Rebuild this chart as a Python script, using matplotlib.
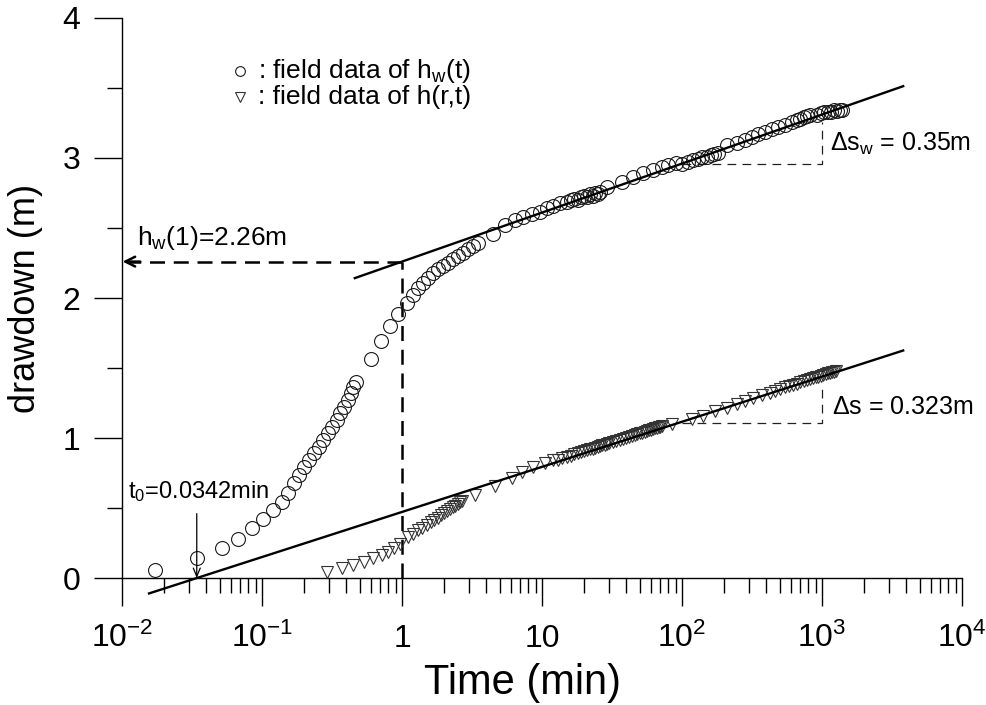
import matplotlib
matplotlib.use('Agg')
import matplotlib.pyplot as plt
from matplotlib.ticker import FixedLocator, LogLocator, MultipleLocator, NullFormatter

plt.rcParams['font.family'] = ['Liberation Sans', 'DejaVu Sans']
plt.rcParams['mathtext.fontset'] = 'custom'
plt.rcParams['mathtext.rm'] = 'Liberation Sans'
plt.rcParams['mathtext.it'] = 'Liberation Sans:italic'
plt.rcParams['mathtext.default'] = 'regular'

# field data of h_w(t)  (time in min, drawdown in m)
well_t = [0.0172, 0.0343, 0.0518, 0.0674, 0.0848, 0.1017, 0.120, 0.139, 0.153, 0.169,
          0.184, 0.200, 0.217, 0.235, 0.255, 0.273, 0.296, 0.316, 0.343, 0.361,
          0.385, 0.411, 0.432, 0.447, 0.469, 0.600, 0.708, 0.820, 0.936, 1.086,
          1.20, 1.30, 1.41, 1.53, 1.66, 1.81, 1.96, 2.13, 2.31, 2.51,
          2.73, 2.96, 3.21, 3.49, 4.47, 5.4, 6.4, 7.3, 8.5, 9.7,
          10.9, 12.0, 13.5, 15.1, 16, 17, 18, 19, 20, 21,
          22, 23, 24, 25, 26, 29.1, 37.2, 44.7, 52.6, 62.1,
          72, 80, 90, 100, 110, 120, 130, 140, 150, 160,
          170, 180, 209, 247, 282, 316, 349, 392, 440, 485,
          545, 611, 660, 700, 740, 780, 820, 920, 980, 1040,
          1100, 1160, 1220, 1280, 1340, 1390]
well_s = [0.057, 0.143, 0.214, 0.279, 0.357, 0.421, 0.486, 0.543, 0.607, 0.679,
          0.736, 0.793, 0.843, 0.893, 0.936, 0.986, 1.036, 1.079, 1.129, 1.179,
          1.221, 1.271, 1.321, 1.364, 1.400, 1.564, 1.693, 1.800, 1.886, 1.964,
          2.021, 2.071, 2.107, 2.140, 2.180, 2.207, 2.230, 2.250, 2.280, 2.300,
          2.320, 2.350, 2.370, 2.390, 2.457, 2.521, 2.557, 2.579, 2.600, 2.614,
          2.643, 2.657, 2.679, 2.686, 2.70, 2.71, 2.70, 2.72, 2.73, 2.72,
          2.74, 2.73, 2.75, 2.74, 2.76, 2.793, 2.829, 2.864, 2.893, 2.914,
          2.936, 2.95, 2.964, 2.96, 2.97, 2.985, 2.99, 3.005, 3.01, 3.02,
          3.03, 3.035, 3.093, 3.107, 3.129, 3.15, 3.171, 3.186, 3.207, 3.221,
          3.236, 3.257, 3.27, 3.28, 3.29, 3.30, 3.31, 3.31, 3.32, 3.33,
          3.325, 3.33, 3.34, 3.335, 3.34, 3.345]

# field data of h(r,t)
obs_t = [0.291, 0.373, 0.447, 0.535, 0.621, 0.72, 0.794, 0.877, 0.968,
         1.1, 1.2, 1.3, 1.4, 1.5, 1.6, 1.7, 1.8, 1.9, 2.0, 2.1, 2.2, 2.3, 2.4, 2.5, 2.6, 2.7,
         3.32, 4.62, 6.1, 7.2, 8.6, 10.5, 12.0,
         13, 14, 15, 16, 17, 18, 19, 20, 21, 22, 23, 24, 25, 26, 27, 28, 29, 30,
         32, 34, 36, 38, 40, 42, 44, 46, 48, 50, 52, 54, 56, 58, 60, 62, 64, 66, 68, 70, 72,
         85, 118, 141, 172, 210, 247, 282, 321, 373, 425,
         460, 500, 540, 580, 620, 660, 700, 740, 780, 820, 860, 900, 940, 980, 1020,
         1060, 1100, 1140, 1180, 1220, 1260]
obs_s = [0.043, 0.071, 0.093, 0.114, 0.143, 0.164, 0.186, 0.214, 0.243,
         0.29, 0.315, 0.34, 0.36, 0.38, 0.40, 0.415, 0.43, 0.45, 0.465, 0.48, 0.49, 0.505, 0.515, 0.53, 0.54, 0.55,
         0.593, 0.657, 0.714, 0.757, 0.793, 0.821, 0.843,
         0.845, 0.856, 0.865, 0.874, 0.883, 0.891, 0.899, 0.906, 0.912, 0.919, 0.925, 0.931, 0.937, 0.942,
         0.948, 0.953, 0.958, 0.962,
         0.971, 0.980, 0.988, 0.995, 1.003, 1.009, 1.016, 1.022, 1.028, 1.034, 1.039, 1.045, 1.050, 1.055,
         1.059, 1.064, 1.068, 1.073, 1.077, 1.081, 1.085,
         1.100, 1.135, 1.158, 1.190, 1.215, 1.240, 1.262, 1.283, 1.305, 1.325,
         1.339, 1.350, 1.361, 1.371, 1.380, 1.389, 1.397, 1.405, 1.413, 1.420, 1.426, 1.433, 1.439, 1.445,
         1.450, 1.456, 1.461, 1.466, 1.471, 1.475, 1.480]

# straight-line (Cooper-Jacob) fits
fit_w_t = [0.46, 3800]
fit_w_s = [2.142, 3.513]
fit_o_t = [0.0156, 3800]
fit_o_s = [-0.110, 1.625]

t_one = 1.0
hw_one = 2.26
t0 = 0.0342

# slope construction per log cycle
dsw_t = [100, 1000, 1000]
dsw_s = [2.96, 2.96, 3.26]
ds_t = [100, 1000, 1000]
ds_s = [1.11, 1.11, 1.38]

xticks = [1e-2, 1e-1, 1, 10, 1e2, 1e3, 1e4]
xtick_labels = [r'$10^{-2}$', r'$10^{-1}$', '1', '10', r'$10^{2}$', r'$10^{3}$', r'$10^{4}$']
yticks = [0, 1, 2, 3, 4]

fig = plt.figure(figsize=(9.87, 7.05), dpi=100)
ax = fig.add_axes([0.1236, 0.1801, 0.8511, 0.7944])

ax.plot(well_t, well_s, 'o', ms=10, mfc='none', mec='#1a1a1a', mew=0.8, zorder=3)
ax.plot(obs_t, obs_s, 'v', ms=9, mfc='none', mec='#333333', mew=0.8, zorder=3)

ax.plot(fit_w_t, fit_w_s, '-', color='black', lw=1.7, zorder=4, clip_on=False)
ax.plot(fit_o_t, fit_o_s, '-', color='black', lw=1.7, zorder=4, clip_on=False)

# h_w(1) construction
dash = (0, (6, 3.5))
ax.plot([t_one, t_one], [0, hw_one], color='black', lw=1.8, ls=dash, zorder=2)
ax.plot([t_one, 0.0112], [hw_one, hw_one], color='black', lw=1.8, ls=dash, zorder=2)
ax.annotate('', xy=(0.0101, hw_one), xytext=(0.0135, hw_one),
            arrowprops=dict(arrowstyle='->,head_length=0.7,head_width=0.35', lw=1.8,
                            color='black', shrinkA=0, shrinkB=0))
ax.text(0.018, 0.595, r'$h_w$(1)=2.26m', transform=ax.transAxes, fontsize=19,
        ha='left', va='baseline')

# t0 arrow
ax.annotate('', xy=(t0, 0.0), xytext=(t0, 0.46),
            arrowprops=dict(arrowstyle='->,head_length=0.6,head_width=0.25', lw=0.9,
                            color='black', shrinkA=0, shrinkB=0))
ax.text(0.007, 0.143, r'$t_0$=0.0342min', transform=ax.transAxes, fontsize=17,
        ha='left', va='baseline')

# slope per log cycle
thin = (0, (7, 5))
ax.plot(dsw_t, dsw_s, color='#222222', lw=0.9, ls=thin, zorder=2)
ax.plot(ds_t, ds_s, color='#222222', lw=0.9, ls=thin, zorder=2)
ax.text(0.843, 0.775, r'$\Delta s_w$ = 0.35m', transform=ax.transAxes, fontsize=18,
        ha='left', va='center')
ax.text(0.845, 0.305, r'$\Delta$s = 0.323m', transform=ax.transAxes, fontsize=18,
        ha='left', va='center')

# legend drawn by hand
ax.plot([0.1405], [0.905], 'o', ms=7, mfc='none', mec='#1a1a1a', mew=0.8,
        transform=ax.transAxes, clip_on=False)
ax.plot([0.1405], [0.859], 'v', ms=7, mfc='none', mec='#333333', mew=0.8,
        transform=ax.transAxes, clip_on=False)
ax.text(0.162, 0.905, r': field data of $h_w$(t)', transform=ax.transAxes, fontsize=19,
        ha='left', va='center')
ax.text(0.162, 0.859, ': field data of h(r,t)', transform=ax.transAxes, fontsize=19,
        ha='left', va='center')

ax.set_xscale('log')
ax.set_xlim(1e-2, 1e4)
ax.set_ylim(0, 4)
ax.xaxis.set_major_locator(FixedLocator(xticks))
ax.set_xticklabels(xtick_labels, va='baseline')
ax.xaxis.set_minor_locator(LogLocator(base=10, subs=range(2, 10), numticks=20))
ax.xaxis.set_minor_formatter(NullFormatter())
ax.set_yticks(yticks)
ax.yaxis.set_minor_locator(MultipleLocator(0.5))

for side in ['top', 'right']:
    ax.spines[side].set_visible(False)
for side in ['left', 'bottom']:
    ax.spines[side].set_linewidth(1.0)

ax.tick_params(axis='both', which='major', direction='out', length=20, width=1.0,
               labelsize=23)
ax.tick_params(axis='both', which='minor', direction='out', length=10.5, width=1.0)
ax.tick_params(axis='x', which='major', pad=30)
ax.tick_params(axis='y', which='major', pad=10)

ax.set_xlabel('Time (min)', fontsize=30)
ax.xaxis.set_label_coords(0.477, -0.152)
ax.xaxis.label.set_va('top')
ax.set_ylabel('drawdown (m)', fontsize=26)
ax.yaxis.set_label_coords(-0.094, 0.5)

fig.savefig('out.png', dpi=100)
